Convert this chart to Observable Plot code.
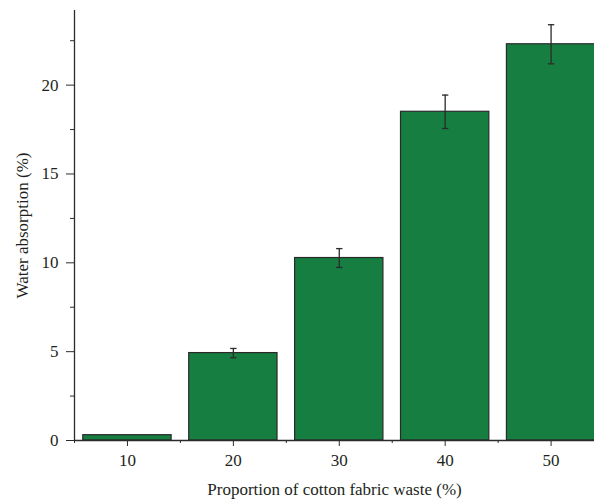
<!DOCTYPE html>
<html>
<head>
<meta charset="utf-8">
<script src="https://cdn.jsdelivr.net/npm/d3@7"></script>
<script src="https://cdn.jsdelivr.net/npm/@observablehq/plot@0.6"></script>
<style>
  html, body { margin: 0; padding: 0; background: #fff; }
  #chart svg { display: block; }
</style>
</head>
<body>
<div id="chart"></div>
<script>
const proportions = [10, 20, 30, 40, 50];
const absorption = [0.3, 4.92, 10.27, 18.5, 22.3];
const errors = [0, 0.26, 0.53, 0.94, 1.1];
const yMajorTicks = [0, 5, 10, 15, 20];
const yMinorTicks = [2.5, 7.5, 12.5, 17.5, 22.5];
const xMajorTicks = [10, 20, 30, 40, 50];
const xMinorTicks = [5, 15, 25, 35, 45];
const xTitle = "Proportion of cotton fabric waste (%)";
const yTitle = "Water absorption (%)";

const data = proportions.map((p, i) => ({x: p, y: absorption[i], e: errors[i]}));
const errData = data.filter(d => d.e > 0);
const halfBar = 4.17;
const halfCap = 0.3;
const ink = "#2b2b2b";

const chart = Plot.plot({
  width: 594,
  height: 500,
  marginLeft: 74,
  marginRight: 0,
  marginTop: 10,
  marginBottom: 60,
  style: {fontFamily: "'Liberation Serif', 'DejaVu Serif', serif", fontSize: "17px", color: "#231f20", background: "#fff"},
  x: {type: "linear", domain: [5, 54.1]},
  y: {domain: [0, 24.2]},
  marks: [
    Plot.rectY(data, {x1: d => d.x - halfBar, x2: d => d.x + halfBar, y1: 0, y2: "y", fill: "#167e40", stroke: "#2a2a2a", strokeWidth: 1.2}),
    Plot.ruleX(errData, {x: "x", y1: d => d.y - d.e, y2: d => d.y + d.e, stroke: ink, strokeWidth: 1.3}),
    Plot.link(errData, {x1: d => d.x - halfCap, x2: d => d.x + halfCap, y1: d => d.y + d.e, y2: d => d.y + d.e, stroke: ink, strokeWidth: 1.3}),
    Plot.link(errData, {x1: d => d.x - halfCap, x2: d => d.x + halfCap, y1: d => d.y - d.e, y2: d => d.y - d.e, stroke: ink, strokeWidth: 1.3}),
    Plot.axisY({ticks: yMajorTicks, tickSize: 8, tickPadding: 8, stroke: ink, fontSize: 17, label: yTitle, labelAnchor: "center", labelArrow: "none", labelOffset: 59}),
    Plot.axisY({ticks: yMinorTicks, tickSize: 4, text: null, label: null, stroke: ink}),
    Plot.axisX({ticks: xMajorTicks, tickSize: 6, tickPadding: 7, stroke: ink, fontSize: 17, label: xTitle, labelAnchor: "center", labelArrow: "none", labelOffset: 54}),
    Plot.axisX({ticks: xMinorTicks, tickSize: 3, text: null, label: null, stroke: ink}),
    Plot.ruleX([5], {stroke: ink, strokeWidth: 1.3}),
    Plot.ruleY([0], {stroke: ink, strokeWidth: 1.3})
  ]
});
document.getElementById("chart").appendChild(chart);
</script>
</body>
</html>
